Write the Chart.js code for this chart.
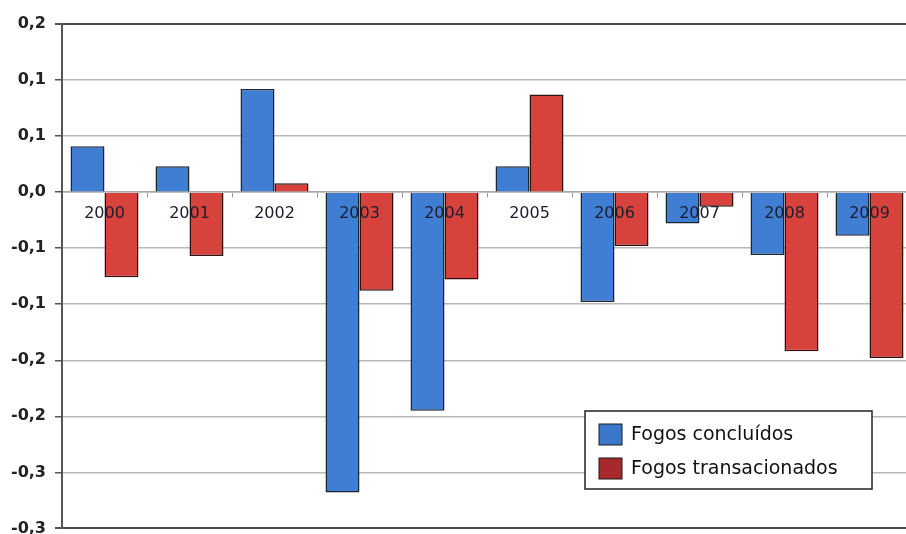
<!DOCTYPE html>
<html>
<head>
<meta charset="utf-8">
<script src="https://cdn.jsdelivr.net/npm/chart.js@4"></script>
<style>
  html, body { margin: 0; padding: 0; background: #fff; overflow: hidden; }
  #wrap { width: 914px; height: 547px; }
</style>
</head>
<body>
<div id="wrap"><canvas id="chart"></canvas></div>
<script>
// data
const years = ['2000', '2001', '2002', '2003', '2004', '2005', '2006', '2007', '2008', '2009'];
const fogosConcluidos = [0.041, 0.023, 0.092, -0.268, -0.195, 0.023, -0.098, -0.028, -0.056, -0.039];
const fogosTransacionados = [-0.076, -0.057, 0.008, -0.088, -0.078, 0.087, -0.048, -0.013, -0.142, -0.148];
// y tick labels, bottom to top (as printed, one decimal)
const yTickLabels = ['-0,3', '-0,3', '-0,2', '-0,2', '-0,1', '-0,1', '0,0', '0,1', '0,1', '0,2'];

const legendColors = ['#3b78cc', '#a8292b'];

// legend in a framed box inside the plot
const boxLegend = {
    id: 'boxLegend',
    afterDraw(chart) {
        const ctx = chart.ctx;
        ctx.save();
        ctx.fillStyle = '#fff';
        ctx.fillRect(585, 411, 287, 78);
        ctx.strokeStyle = '#222';
        ctx.lineWidth = 1.5;
        ctx.strokeRect(585, 411, 287, 78);
        ctx.font = '19px "DejaVu Sans"';
        ctx.textBaseline = 'middle';
        chart.data.datasets.forEach((ds, i) => {
            const y = 424 + i * 34;
            ctx.fillStyle = legendColors[i];
            ctx.fillRect(599, y, 23, 21);
            ctx.strokeStyle = '#1a1a1a';
            ctx.lineWidth = 1;
            ctx.strokeRect(599, y, 23, 21);
            ctx.fillStyle = '#111';
            ctx.fillText(ds.label, 631, y + 11);
        });
        ctx.restore();
    }
};

new Chart(document.getElementById('chart'), {
    type: 'bar',
    data: {
        labels: years,
        datasets: [{
            label: 'Fogos concluídos',
            data: fogosConcluidos,
            backgroundColor: '#3f7ed2',
            borderColor: '#1c2436',
            borderWidth: 1.5
        },
        {
            label: 'Fogos transacionados',
            data: fogosTransacionados,
            backgroundColor: '#d8423d',
            borderColor: '#2e1010',
            borderWidth: 1.5
        }]
    },
    options: {
        responsive: true,
        maintainAspectRatio: false,
        animation: false,
        datasets: {
            bar: { categoryPercentage: 0.8, barPercentage: 1.0 }
        },
        layout: { padding: { top: 24, bottom: 10, left: 0, right: 2 } },
        plugins: {
            legend: { display: false },
            tooltip: { enabled: false }
        },
        scales: {
            x: {
                position: { y: 0 },
                afterFit: (scale) => { scale.height = 0; },
                grid: { drawOnChartArea: false, drawTicks: true, tickLength: 5, color: '#999', lineWidth: 1 },
                border: { display: true, color: '#a8a8a8', width: 1.5 },
                ticks: {
                    z: 1,
                    color: '#1a1f2e',
                    padding: 7,
                    maxRotation: 0,
                    font: { family: 'DejaVu Sans', size: 16 }
                }
            },
            y: {
                min: -0.3,
                max: 0.15,
                afterFit: (scale) => { scale.width = 62; },
                ticks: {
                    stepSize: 0.05,
                    padding: 9,
                    color: '#222',
                    font: { family: 'DejaVu Sans', size: 16, weight: 'bold' },
                    callback: (value, index) => yTickLabels[index]
                },
                grid: {
                    tickLength: 7,
                    color: (c) => (c.index === 0 || c.index === 9) ? '#4a4a4a' : '#b8b8b8',
                    lineWidth: (c) => (c.index === 0 || c.index === 9) ? 2 : 1.5,
                    tickColor: '#555'
                },
                border: { display: true, color: '#555', width: 2 }
            }
        }
    },
    plugins: [boxLegend]
});
</script>
</body>
</html>
